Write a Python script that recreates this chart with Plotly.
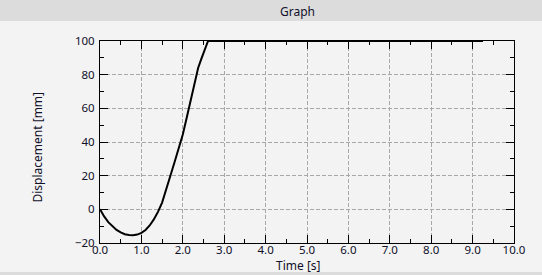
import plotly.graph_objects as go

time_s = [0.0, 0.05, 0.1, 0.2, 0.3, 0.4, 0.5, 0.6, 0.7, 0.8, 0.9, 1.0, 1.1, 1.2, 1.3,
          1.4, 1.5, 1.6, 1.7, 1.8, 1.9, 2.0, 2.1, 2.2, 2.3, 2.37, 2.45, 2.53, 2.61, 9.25]
displacement_mm = [0.0, -2.2, -4.2, -7.6, -10.2, -12.2, -13.7, -14.8, -15.3, -15.4, -15.0,
                   -14.0, -12.3, -9.6, -6.0, -1.5, 4.0, 11.5, 20.0, 28.0, 36.0,
                   44.5, 55.0, 66.0, 77.5, 84.0, 89.5, 94.8, 100.0, 100.0]

x_ticks = [0, 1, 2, 3, 4, 5, 6, 7, 8, 9, 10]
x_tick_labels = ["0.0", "1.0", "2.0", "3.0", "4.0", "5.0", "6.0", "7.0", "8.0", "9.0", "10.0"]
y_ticks = [-20, 0, 20, 40, 60, 80, 100]

W, H = 542, 275
L, R, T, B = 100, 514, 41, 243
pw, ph = R - L, B - T

def px(x):
    return (x - L) / pw

def py(y):
    return (B - y) / ph

FONT = "Noto Sans"
TXT = "#10102a"

fig = go.Figure()
fig.add_trace(go.Scatter(x=time_s, y=displacement_mm, mode="lines",
                         line=dict(color="black", width=2),
                         cliponaxis=False, hoverinfo="skip", showlegend=False))

axis_common = dict(
    showline=True, linecolor="black", linewidth=1, mirror="ticks",
    ticks="inside", ticklen=8, tickwidth=1, tickcolor="black",
    showgrid=True, gridcolor="#a8a8a8", gridwidth=1, griddash="4px,2px",
    zeroline=False, tickfont=dict(family=FONT, size=11.5, color=TXT),
)

fig.update_xaxes(range=[0, 10], tickvals=x_ticks, ticktext=x_tick_labels,
                 minor=dict(dtick=0.5, ticks="inside", ticklen=4, tickcolor="black", showgrid=False),
                 ticklabelstandoff=-4, **axis_common)
fig.update_yaxes(range=[-20, 100], tickvals=y_ticks,
                 minor=dict(dtick=10, ticks="inside", ticklen=4, tickcolor="black", showgrid=False),
                 ticklabelstandoff=2, **axis_common)

shapes = [
    dict(type="rect", xref="paper", yref="paper", x0=px(0), x1=px(W), y0=py(0), y1=py(21),
         fillcolor="#dcdcdc", line=dict(width=0), layer="below"),
    dict(type="rect", xref="paper", yref="paper", x0=px(0), x1=px(W), y0=py(272), y1=py(H),
         fillcolor="#dcdcdc", line=dict(width=0), layer="below"),
]

annotations = [
    dict(text="Graph", xref="paper", yref="paper", x=px(297.5), y=py(11), showarrow=False,
         font=dict(family=FONT, size=12, color=TXT), xanchor="center", yanchor="middle"),
    dict(text="Time [s]", xref="paper", yref="paper", x=px(298), y=py(265.5), showarrow=False,
         font=dict(family=FONT, size=12, color=TXT), xanchor="center", yanchor="middle"),
    dict(text="Displacement [mm]", xref="paper", yref="paper", x=px(36.5), y=py(147), showarrow=False,
         textangle=-90, font=dict(family=FONT, size=12, color=TXT), xanchor="center", yanchor="middle"),
]

fig.update_layout(width=W, height=H, margin=dict(l=L, r=W - R, t=T, b=H - B, pad=0),
                  paper_bgcolor="#f3f3f3", plot_bgcolor="#f3f3f3",
                  shapes=shapes, annotations=annotations, showlegend=False)

fig.write_html("out.html", config={"displayModeBar": False})
